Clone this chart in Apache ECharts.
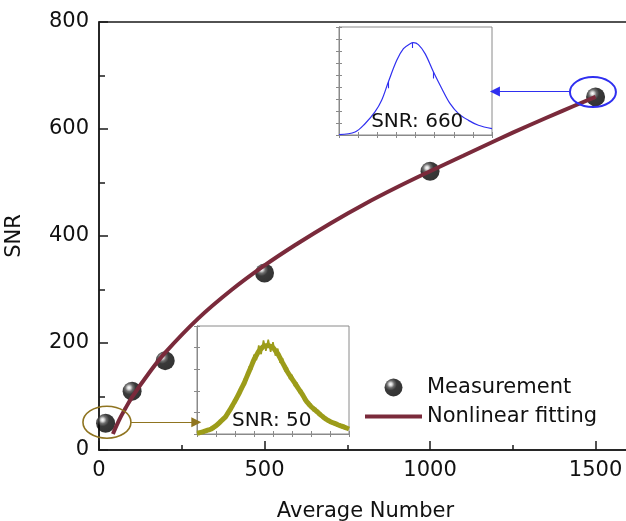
<!DOCTYPE html>
<html>
<head>
<meta charset="utf-8">
<script src="https://cdn.jsdelivr.net/npm/echarts@6/dist/echarts.min.js"></script>
<style>
  html, body { margin: 0; padding: 0; background: #fff; }
  #chart { width: 626px; height: 521px; }
</style>
</head>
<body>
<div id="chart"></div>
<script>
// Measured SNR against averaging count
const avgNumber   = [20, 100, 200, 500, 1000, 1500];
const snrMeasured = [50, 110, 167, 331, 521, 660];

// Nonlinear fit curve
const fitX = [42, 60, 80, 100, 150, 200, 300, 400, 500, 600, 700, 800, 900, 1000, 1100, 1200, 1300, 1400, 1500];
const fitY = [30, 55, 78, 99, 143, 182, 246, 299, 345, 386, 424, 459, 491, 521, 550, 579, 607, 634, 660];

// Axis tick labels
const xTickLabels = [0, 500, 1000, 1500];
const yTickLabels = [0, 200, 400, 600, 800];

// Spectrum after 1500 averages (SNR 660)
const blueX = [0, 0.84, 1.36, 1.88, 2.23, 2.58, 3.02, 3.37, 3.72, 3.89, 4.15, 4.5, 4.94, 5.38, 5.81, 6.25, 6.77, 7.29, 8.0];
const blueY = [0.03, 0.25, 0.94, 1.92, 2.89, 4.42, 6.22, 7.19, 7.61, 7.69, 7.53, 6.78, 5.25, 3.86, 2.61, 1.78, 1.22, 0.81, 0.53];
// small glitches on the averaged trace: [x, yTop, yBottom]
const blueGlitches = [[2.58, 4.42, 3.9], [3.85, 7.70, 7.25], [4.94, 5.25, 4.7]];

// Spectrum for a single acquisition (SNR 50)
const oliveX = [0, 0.125, 0.25, 0.375, 0.5, 0.625, 0.75, 0.875, 1, 1.125, 1.25, 1.375, 1.5, 1.625, 1.75, 1.875,
  2, 2.125, 2.25, 2.375, 2.5, 2.625, 2.75, 2.875, 3, 3.125, 3.25, 3.375, 3.5, 3.625, 3.75, 3.875,
  4, 4.125, 4.25, 4.375, 4.5, 4.625, 4.75, 4.875, 5, 5.125, 5.25, 5.375, 5.5, 5.625, 5.75, 5.875,
  6, 6.125, 6.25, 6.375, 6.5, 6.625, 6.75, 6.875, 7, 7.125, 7.25, 7.375, 7.5, 7.625, 7.75, 7.875, 8];
const oliveCore = [0.08, 0.11, 0.15, 0.21, 0.28, 0.35, 0.42, 0.55, 0.68, 0.86, 1.05, 1.24, 1.43, 1.74, 2.05, 2.4,
  2.75, 3.12, 3.5, 3.9, 4.3, 4.78, 5.25, 5.72, 6.2, 6.55, 6.9, 7.1, 7.3, 7.35, 7.38, 7.3,
  7.2, 6.95, 6.7, 6.33, 5.95, 5.58, 5.2, 4.9, 4.6, 4.3, 4.0, 3.7, 3.4, 3.08, 2.75, 2.52,
  2.3, 2.12, 1.95, 1.78, 1.6, 1.44, 1.28, 1.16, 1.05, 0.96, 0.88, 0.8, 0.72, 0.65, 0.57, 0.5, 0.42];
const oliveNoise = [0.20, 0.02, 0.28, 0.08, 0.42, 0.22, 0.57, 0.41, 0.84, 0.70, 1.23, 1.07, 1.63, 1.54, 2.27, 2.18,
  3.0, 2.86, 3.8, 3.62, 4.63, 4.48, 5.63, 5.37, 6.62, 6.15, 7.38, 6.65, 7.8, 6.93, 7.86, 6.85,
  7.65, 6.53, 7.12, 5.93, 6.33, 5.22, 5.56, 4.57, 4.93, 4.0, 4.3, 3.42, 3.68, 2.82, 3.0, 2.28,
  2.53, 1.9, 2.16, 1.58, 1.8, 1.25, 1.46, 0.98, 1.22, 0.79, 1.04, 0.64, 0.87, 0.5, 0.72, 0.36, 0.56];

const FONT = 'DejaVu Sans';
const INK = '#111';
const BLUE = '#2f2ff0';
const OLIVE = '#9c9c1a';
const OLIVE_ANNOT = '#8f7420';
const FIT = '#7a2a3b';

const chart = echarts.init(document.getElementById('chart'), null, { renderer: 'canvas' });

function insetAxis(gridIndex, position, max, interval) {
  return {
    gridIndex, position, type: 'value', min: 0, max, interval,
    axisLine: { show: true, lineStyle: { color: '#8a8a8a', width: 1 } },
    axisTick: { show: true, inside: true, length: 3, lineStyle: { color: '#8a8a8a', width: 1 } },
    axisLabel: { show: false },
    splitLine: { show: false }
  };
}

// glossy black ball for the measured points
const sphere = {
  type: 'radial', x: 0.34, y: 0.32, r: 0.72,
  colorStops: [
    { offset: 0, color: '#ffffff' },
    { offset: 0.12, color: '#d0d0d0' },
    { offset: 0.28, color: '#4a4a4a' },
    { offset: 0.48, color: '#080808' },
    { offset: 1, color: '#000' }
  ]
};

const gridBase = { outerBoundsMode: 'none', containLabel: false, show: true };

chart.setOption({
  animation: false,
  backgroundColor: '#fff',
  grid: [
    Object.assign({ left: 99, top: 22, width: 533, height: 428, borderColor: '#1a1a1a', borderWidth: 1.5, backgroundColor: 'transparent' }, gridBase),
    Object.assign({ left: 339, top: 27, width: 153, height: 108, borderColor: '#8a8a8a', borderWidth: 1, backgroundColor: '#fff' }, gridBase),
    Object.assign({ left: 197, top: 326, width: 152, height: 108, borderColor: '#8a8a8a', borderWidth: 1, backgroundColor: '#fff' }, gridBase)
  ],
  legend: {
    orient: 'vertical', left: 365, top: 377, padding: 0,
    itemWidth: 57, itemHeight: 18, itemGap: 8,
    textStyle: { fontFamily: FONT, fontSize: 21, color: INK },
    data: [
      { name: 'Measurement', icon: 'circle' },
      { name: 'Nonlinear fitting', icon: 'path://M0,0H57V4H0Z' }
    ]
  },
  xAxis: [
    {
      gridIndex: 0, position: 'bottom', type: 'value', min: 0, max: 1610, interval: 250,
      axisLine: { show: true, lineStyle: { color: '#1a1a1a', width: 1.5 } },
      axisTick: { show: true, inside: true, length: 5, lineStyle: { color: '#1a1a1a', width: 1.5 } },
      axisLabel: { show: false }, splitLine: { show: false }
    },
    {
      gridIndex: 0, position: 'bottom', type: 'value', min: 0, max: 1610, interval: 500,
      axisLine: { show: false },
      axisTick: { show: true, inside: true, length: 9, lineStyle: { color: '#1a1a1a', width: 1.5 } },
      axisLabel: {
        show: true, margin: 10, fontFamily: FONT, fontSize: 21, color: INK,
        formatter: v => (xTickLabels.indexOf(v) >= 0 ? String(v) : '')
      },
      splitLine: { show: false },
      name: 'Average Number', nameLocation: 'middle', nameGap: 51,
      nameTextStyle: { fontFamily: FONT, fontSize: 21, color: INK }
    },
    insetAxis(1, 'bottom', 8, 1),
    insetAxis(1, 'top', 8, 1),
    insetAxis(2, 'bottom', 8, 1),
    insetAxis(2, 'top', 8, 1)
  ],
  yAxis: [
    {
      gridIndex: 0, position: 'left', type: 'value', min: 0, max: 800, interval: 200,
      axisLine: { show: true, lineStyle: { color: '#1a1a1a', width: 1.5 } },
      axisTick: { show: true, inside: true, length: 9, lineStyle: { color: '#1a1a1a', width: 1.5 } },
      minorTick: { show: true, splitNumber: 2, length: 6, lineStyle: { color: '#1a1a1a', width: 1.5 } },
      axisLabel: {
        show: true, margin: 10, fontFamily: FONT, fontSize: 21, color: INK,
        formatter: v => (yTickLabels.indexOf(v) >= 0 ? String(v) : '')
      },
      splitLine: { show: false },
      name: 'SNR', nameLocation: 'middle', nameRotate: 90, nameGap: 74,
      nameTextStyle: { fontFamily: FONT, fontSize: 21, color: INK }
    },
    insetAxis(1, 'left', 9, 1),
    insetAxis(1, 'right', 9, 1),
    insetAxis(2, 'left', 9, 1.8),
    insetAxis(2, 'right', 9, 1.8)
  ],
  series: [
    {
      name: 'Measurement', type: 'scatter', xAxisIndex: 1, yAxisIndex: 0,
      data: avgNumber.map((x, i) => [x, snrMeasured[i]]),
      symbol: 'circle', symbolSize: 19, z: 3,
      itemStyle: { color: sphere },
      emphasis: { disabled: true },
      markLine: {
        silent: true, animation: false,
        symbol: ['none', 'triangle'], symbolSize: 10,
        label: { show: false },
        lineStyle: { type: 'solid', width: 1.2 },
        data: [
          [{ coord: [1424, 670], lineStyle: { color: BLUE, width: 1.2 }, itemStyle: { color: BLUE } }, { coord: [1196, 670] }],
          [{ coord: [97, 52], lineStyle: { color: OLIVE_ANNOT, width: 1.2 }, itemStyle: { color: OLIVE_ANNOT } }, { coord: [294, 52] }]
        ]
      }
    },
    {
      name: 'Nonlinear fitting', type: 'line', xAxisIndex: 1, yAxisIndex: 0,
      data: fitX.map((x, i) => [x, fitY[i]]),
      smooth: 0.4, symbol: 'none', showSymbol: false, z: 4,
      lineStyle: { color: FIT, width: 4 },
      itemStyle: { color: FIT },
      emphasis: { disabled: true }
    },
    {
      name: 'spectrum-avg', type: 'line', xAxisIndex: 2, yAxisIndex: 1,
      data: blueX.map((x, i) => [x, blueY[i]]),
      smooth: 0.35, symbol: 'none', z: 5,
      lineStyle: { color: BLUE, width: 1.2 },
      emphasis: { disabled: true }
    },
    {
      name: 'spectrum-avg-glitch', type: 'lines', coordinateSystem: 'cartesian2d',
      xAxisIndex: 2, yAxisIndex: 1, z: 5,
      lineStyle: { color: BLUE, width: 1.1, opacity: 1 },
      data: blueGlitches.map(g => ({ coords: [[g[0], g[1]], [g[0], g[2]]] }))
    },
    {
      name: 'spectrum-single', type: 'line', xAxisIndex: 4, yAxisIndex: 3,
      data: oliveX.map((x, i) => [x, oliveCore[i]]),
      smooth: 0.3, symbol: 'none', z: 5,
      lineStyle: { color: OLIVE, width: 5 },
      emphasis: { disabled: true }
    },
    {
      name: 'spectrum-single-noise', type: 'line', xAxisIndex: 4, yAxisIndex: 3,
      data: oliveX.map((x, i) => [x, oliveNoise[i]]),
      symbol: 'none', z: 6,
      lineStyle: { color: OLIVE, width: 1.6 },
      emphasis: { disabled: true }
    }
  ]
});

// Annotations placed through the axes' own coordinate conversion
const toMain  = p => chart.convertToPixel({ xAxisIndex: 1, yAxisIndex: 0 }, p);
const toBlue  = p => chart.convertToPixel({ xAxisIndex: 2, yAxisIndex: 1 }, p);
const toOlive = p => chart.convertToPixel({ xAxisIndex: 4, yAxisIndex: 3 }, p);

const lastPt  = toMain([1492, 669]);
const firstPt = toMain([24, 52]);
const blueTxt = toBlue([1.68, 1.08]);
const oliveTxt = toOlive([1.84, 1.08]);

chart.setOption({
  graphic: [
    { type: 'ellipse', z: 50, silent: true,
      shape: { cx: lastPt[0], cy: lastPt[1], rx: 23, ry: 15 },
      style: { fill: 'none', stroke: BLUE, lineWidth: 2 } },
    { type: 'ellipse', z: 50, silent: true,
      shape: { cx: firstPt[0], cy: firstPt[1], rx: 24, ry: 16 },
      style: { fill: 'none', stroke: OLIVE_ANNOT, lineWidth: 1.6 } },
    { type: 'text', z: 60, silent: true, x: blueTxt[0], y: blueTxt[1],
      style: { text: 'SNR: 660', fontFamily: FONT, fontSize: 20, fill: INK, align: 'left', verticalAlign: 'middle' } },
    { type: 'text', z: 60, silent: true, x: oliveTxt[0], y: oliveTxt[1],
      style: { text: 'SNR: 50', fontFamily: FONT, fontSize: 20, fill: INK, align: 'left', verticalAlign: 'middle' } }
  ]
});
</script>
</body>
</html>
